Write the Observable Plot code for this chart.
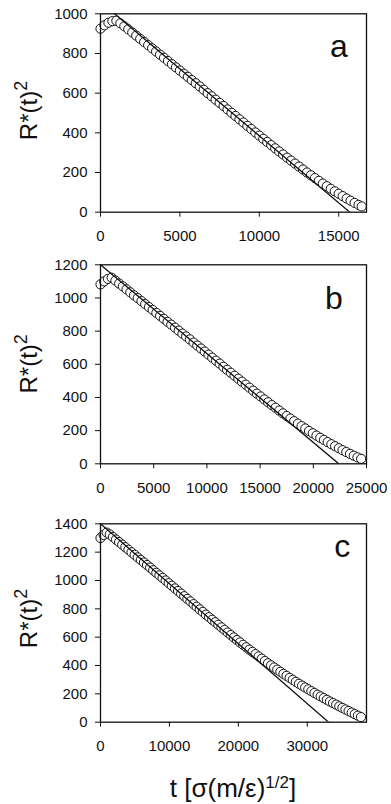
<!DOCTYPE html>
<html><head><meta charset="utf-8">
<script src="https://cdn.jsdelivr.net/npm/d3@7"></script>
<script src="https://cdn.jsdelivr.net/npm/@observablehq/plot@0.6"></script>
<style>
html,body{margin:0;padding:0;background:#fff;}
#wrap{position:relative;width:391px;height:804px;overflow:hidden;background:#fff;}
#wrap svg{position:absolute;left:0;overflow:visible;}
</style></head><body><div id="wrap"></div>
<script>
// Panel a
const tA = [0,250,500,750,1000,1250,1500,1750,2000,2250,2500,2750,3000,3250,3500,3750,4000,4250,4500,4750,5000,5250,5500,5750,6000,6250,6500,6750,7000,7250,7500,7750,8000,8250,8500,8750,9000,9250,9500,9750,10000,10250,10500,10750,11000,11250,11500,11750,12000,12250,12500,12750,13000,13250,13500,13750,14000,14250,14500,14750,15000,15250,15500,15750,16000,16250,16450];
const rA = [925,942,955,963,965,952,937,922,906,890,874,858,842,826,810,794,778,762,746,730,714,698,682,666,650,634,617,600,584,567,551,535,518,501,485,468,452,435,419,402,386,370,354,338,322,306,291,275,260,245,230,215,200,186,172,158,144,131,118,105,93,81,69,58,47,37,29];
const fitTA = [885, 15700];
const fitRA = [1000, 0];
// Panel b
const tB = [0,350,700,1050,1400,1750,2100,2450,2800,3150,3500,3850,4200,4550,4900,5250,5600,5950,6300,6650,7000,7350,7700,8050,8400,8750,9100,9450,9800,10150,10500,10850,11200,11550,11900,12250,12600,12950,13300,13650,14000,14350,14700,15050,15400,15750,16100,16450,16800,17150,17500,17850,18200,18550,18900,19250,19600,19950,20300,20650,21000,21350,21700,22050,22400,22750,23100,23450,23800,24150,24500];
const rB = [1082,1100,1115,1122,1105,1087,1070,1052,1034,1016,999,981,963,945,928,910,892,874,856,839,821,803,785,768,750,731,713,695,677,658,640,622,604,585,567,549,531,513,495,477,459,441,423,406,388,371,354,338,321,304,288,273,257,242,227,213,198,184,170,157,144,131,118,106,94,82,71,60,49,39,30];
const fitTB = [0, 22400];
const fitRB = [1200, 0];
// Panel c
const tC = [0,450,900,1350,1800,2250,2700,3150,3600,4050,4500,4950,5400,5850,6300,6750,7200,7650,8100,8550,9000,9450,9900,10350,10800,11250,11700,12150,12600,13050,13500,13950,14400,14850,15300,15750,16200,16650,17100,17550,18000,18450,18900,19350,19800,20250,20700,21150,21600,22050,22500,22950,23400,23850,24300,24750,25200,25650,26100,26550,27000,27450,27900,28350,28800,29250,29700,30150,30600,31050,31500,31950,32400,32850,33300,33750,34200,34650,35100,35550,36000,36450,36900,37350,37800];
const rC = [1300,1322,1338,1325,1307,1289,1271,1253,1235,1217,1199,1181,1163,1145,1127,1109,1091,1072,1054,1036,1018,1000,981,963,944,926,907,889,870,852,833,815,796,778,759,741,723,705,687,669,651,633,615,598,580,563,546,529,512,496,480,464,448,432,416,401,386,371,356,341,327,313,299,285,271,258,245,232,219,206,194,182,170,158,146,135,124,112,101,90,79,68,57,46,36];
const fitTC = [0, 33100];
const fitRC = [1400, 0];

const xTicksA = [0,5000,10000,15000];
const xTicksB = [0,5000,10000,15000,20000,25000];
const xTicksC = [0,10000,20000,30000];
const yTicksA = [0,200,400,600,800,1000];
const yTicksB = [0,200,400,600,800,1000,1200];
const yTicksC = [0,200,400,600,800,1000,1200,1400];
const letters = ["a","b","c"];

const FONT = 'Arial, "Liberation Sans", Helvetica, sans-serif';
const wrap = document.getElementById("wrap");

function panel(o) {
  const data = o.t.map((d,i)=>({t:d, r:o.r[i]}));
  const fit = o.ft.map((d,i)=>({t:d, r:o.fr[i]}));
  const svg = Plot.plot({
    width:391, height:o.height,
    marginLeft:100, marginRight:25, marginTop:13.3, marginBottom:o.mb,
    style:{fontFamily:FONT, fontSize:"15px", color:"#111", background:"transparent", overflow:"visible"},
    x:{domain:[0,o.xMax]},
    y:{domain:[0,o.yMax]},
    marks:[
      Plot.axisX({ticks:o.xTicks, tickFormat:d=>String(d), tickSize:5, tickPadding:13.3, label:null, fontSize:15}),
      Plot.axisY({ticks:o.yTicks, tickFormat:d=>String(d), tickSize:5, tickPadding:8, label:null, fontSize:15}),
      Plot.dot(data,{x:"t", y:"r", r:4.6, fill:"white", stroke:"#111", strokeWidth:1}),
      Plot.line(fit,{x:"t", y:"r", stroke:"#111", strokeWidth:1.3, clip:true}),
      Plot.frame({stroke:"#111", strokeWidth:1.3}),
      Plot.text([o.letter],{text:d=>d, frameAnchor:"top-right", lineAnchor:"top", textAnchor:"middle", dx:o.ldx, dy:o.ldy, fontSize:32, fill:"#111"})
    ]
  });
  svg.style.top = o.top + "px";
  const yc = (13.3 + (o.height - o.mb)) / 2 + o.yl;
  const t = d3.select(svg).append("text")
    .attr("transform", `translate(37,${yc}) rotate(-90)`)
    .attr("text-anchor","middle")
    .attr("font-family", FONT)
    .attr("font-size", 24)
    .attr("fill","#111");
  t.append("tspan").text("R*(t)");
  t.append("tspan").attr("dy","-10").attr("font-size",18).text("2");
  wrap.appendChild(svg);
  return svg;
}

panel({t:tA, r:rA, ft:fitTA, fr:fitRA, xMax:16750, yMax:1000, xTicks:xTicksA, yTicks:yTicksA, letter:letters[0], top:0, height:250, mb:38.3, ldx:-27.5, ldy:20.7, yl:-2});
panel({t:tB, r:rB, ft:fitTB, fr:fitRB, xMax:25000, yMax:1200, xTicks:xTicksB, yTicks:yTicksB, letter:letters[1], top:251, height:250, mb:37.7, ldx:-32.5, ldy:21, yl:0});
const svgC = panel({t:tC, r:rC, ft:fitTC, fr:fitRC, xMax:38600, yMax:1400, xTicks:xTicksC, yTicks:yTicksC, letter:letters[2], top:510, height:294, mb:82.3, ldx:-24.3, ldy:10.7, yl:-4});

const xl = d3.select(svgC).append("text")
  .attr("x",233).attr("y",286.7)
  .attr("text-anchor","middle")
  .attr("font-family", FONT)
  .attr("font-size",26)
  .attr("fill","#111");
xl.append("tspan").text("t [σ(m/ε)");
xl.append("tspan").attr("dy","-9").attr("font-size",17).text("1/2");
xl.append("tspan").attr("dy","9").text("]");
</script>
</body></html>
